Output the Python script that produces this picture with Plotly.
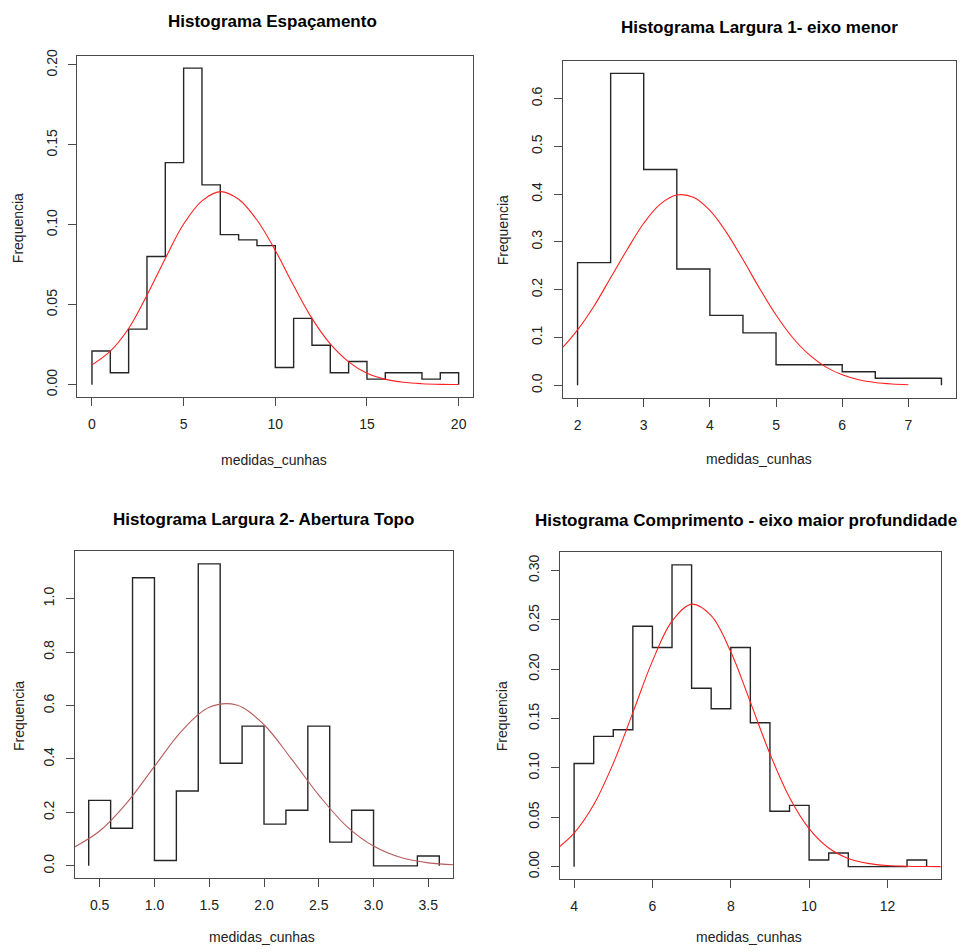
import plotly.graph_objects as go

# ---------------- data ----------------
# Panel 1: Espaçamento
esp_edges = [0, 1, 2, 3, 4, 5, 6, 7, 8, 9, 10, 11, 12, 13, 14, 15, 16, 17, 18, 19, 20]
esp_density = [0.0211, 0.0075, 0.0348, 0.0802, 0.1389, 0.1980, 0.1250, 0.0939, 0.0906, 0.0870,
               0.0108, 0.0415, 0.0247, 0.0075, 0.0145, 0.0035, 0.0075, 0.0075, 0.0035, 0.0075]
esp_curve_x = [0, 1, 2, 3, 4, 5, 6, 7, 8, 9, 10, 11, 12, 13, 14, 15, 16, 17, 18, 19, 20]
esp_curve_y = [0.0124, 0.0210, 0.0352, 0.0560, 0.0790, 0.1005, 0.1150, 0.1208, 0.1160, 0.1030,
               0.0840, 0.0620, 0.0415, 0.0255, 0.0143, 0.0072, 0.0035, 0.0015, 0.0006, 0.0002, 0.0001]

# Panel 2: Largura 1 - eixo menor
lg1_edges = [2.0, 2.5, 3.0, 3.5, 4.0, 4.5, 5.0, 5.5, 6.0, 6.5, 7.0, 7.5]
lg1_density = [0.2566, 0.6526, 0.4515, 0.2434, 0.1463, 0.1096, 0.0430, 0.0430, 0.0284, 0.0146, 0.0146]
lg1_curve_x = [1.5, 1.75, 2.0, 2.25, 2.5, 2.75, 3.0, 3.25, 3.5, 3.75, 4.0, 4.25, 4.5, 4.75,
               5.0, 5.25, 5.5, 5.75, 6.0, 6.25, 6.5, 6.75, 7.0]
lg1_curve_y = [0.0470, 0.0760, 0.1160, 0.1660, 0.2250, 0.2840, 0.3390, 0.3790, 0.3980, 0.3935,
               0.3660, 0.3200, 0.2630, 0.2030, 0.1470, 0.1000, 0.0640, 0.0385, 0.0218, 0.0116,
               0.0058, 0.0027, 0.0012]

# Panel 3: Largura 2 - Abertura Topo
lg2_edges = [0.4, 0.6, 0.8, 1.0, 1.2, 1.4, 1.6, 1.8, 2.0, 2.2, 2.4, 2.6, 2.8, 3.0, 3.2, 3.4, 3.6]
lg2_density = [0.245, 0.141, 1.078, 0.020, 0.280, 1.130, 0.384, 0.523, 0.156, 0.208,
               0.523, 0.089, 0.208, 0.0, 0.0, 0.037]
lg2_curve_x = [0.25, 0.5, 0.75, 1.0, 1.25, 1.5, 1.75, 2.0, 2.25, 2.5, 2.75, 3.0, 3.25, 3.5, 3.75]
lg2_curve_y = [0.0660, 0.1304, 0.2369, 0.3722, 0.5054, 0.5932, 0.6019, 0.5280, 0.4004,
               0.2650, 0.1500, 0.0740, 0.0310, 0.0113, 0.0040]

# Panel 4: Comprimento - eixo maior profundidade
cmp_edges = [4.0, 4.5, 5.0, 5.5, 6.0, 6.5, 7.0, 7.5, 8.0, 8.5, 9.0, 9.5, 10.0, 10.5, 11.0,
             11.5, 12.0, 12.5, 13.0]
cmp_density = [0.1045, 0.1320, 0.1387, 0.2435, 0.2220, 0.3057, 0.1807, 0.1600, 0.2220, 0.1458,
               0.0561, 0.0621, 0.0067, 0.0138, 0.0, 0.0, 0.0, 0.0067]
cmp_curve_x = [3.5, 4.0, 4.5, 5.0, 5.5, 6.0, 6.5, 7.0, 7.5, 8.0, 8.5, 9.0, 9.5, 10.0, 10.5,
               11.0, 11.5, 12.0, 12.5, 13.0, 13.5]
cmp_curve_y = [0.0162, 0.0340, 0.0627, 0.1046, 0.1560, 0.2082, 0.2487, 0.2659, 0.2543, 0.2176,
               0.1667, 0.1143, 0.0701, 0.0385, 0.0189, 0.0083, 0.0033, 0.0011, 0.0004, 0.0001, 0.0]

titles = ["Histograma Espaçamento", "Histograma Largura 1- eixo menor",
          "Histograma Largura 2- Abertura Topo", "Histograma Comprimento - eixo maior profundidade"]
x_label = "medidas_cunhas"
y_label = "Frequencia"

# ---------------- layout helpers ----------------
# page offset of the figure inside the browser page
OX, OY = 8.0, 11.5
W, H = 949, 944
FONT = "Liberation Sans, Arial, sans-serif"


def fx(px):
    return (px - OX) / W


def fy(py):
    return 1 - (py - OY) / H


panels = [
    dict(edges=esp_edges, dens=esp_density, cx=esp_curve_x, cy=esp_curve_y, ccol="#ff2020",
         box=(77.3, 473.3, 53.3, 397.3), xr=[-0.8, 20.8], yr=[-0.0079, 0.2059],
         xt=[0, 5, 10, 15, 20], xfmt="d", yt=[0.0, 0.05, 0.10, 0.15, 0.20], yfmt=".2f",
         title=(272, 19), xlab=(274, 460), ylab=(18.3, 226.7)),
    dict(edges=lg1_edges, dens=lg1_density, cx=lg1_curve_x, cy=lg1_curve_y, ccol="#ff2020",
         box=(563, 956, 58.7, 397.7), xr=[1.78, 7.72], yr=[-0.0261, 0.6787],
         xt=[2, 3, 4, 5, 6, 7], xfmt="d", yt=[0.0, 0.1, 0.2, 0.3, 0.4, 0.5, 0.6], yfmt=".1f",
         title=(759.7, 25), xlab=(758.7, 459.3), ylab=(503.3, 228.8)),
    dict(edges=lg2_edges, dens=lg2_density, cx=lg2_curve_x, cy=lg2_curve_y, ccol="#b65c5c",
         box=(74.7, 453.3, 552, 881), xr=[0.272, 3.728], yr=[-0.0453, 1.178],
         xt=[0.5, 1.0, 1.5, 2.0, 2.5, 3.0, 3.5], xfmt=".1f", yt=[0.0, 0.2, 0.4, 0.6, 0.8, 1.0], yfmt=".1f",
         title=(263.3, 520), xlab=(262, 940.5), ylab=(18.3, 717.7)),
    dict(edges=cmp_edges, dens=cmp_density, cx=cmp_curve_x, cy=cmp_curve_y, ccol="#ff2020",
         box=(560, 940.7, 553.3, 881.7), xr=[3.64, 13.36], yr=[-0.0122, 0.3184],
         xt=[4, 6, 8, 10, 12], xfmt="d", yt=[0.0, 0.05, 0.10, 0.15, 0.20, 0.25, 0.30], yfmt=".2f",
         title=(745.5, 521.5), xlab=(749.2, 940.5), ylab=(502.3, 718)),
]

fig = go.Figure()
annotations = []
layout = {}

for i, p in enumerate(panels):
    n = "" if i == 0 else str(i + 1)
    xa, ya = "x" + n, "y" + n
    # step histogram outline
    sx = [p["edges"][0]] + list(p["edges"])
    sy = [0] + list(p["dens"]) + [0]
    fig.add_trace(go.Scatter(x=sx, y=sy, mode="lines", line=dict(shape="hv", color="#262626", width=1.4),
                             xaxis=xa, yaxis=ya, showlegend=False, hoverinfo="skip"))
    fig.add_trace(go.Scatter(x=p["cx"], y=p["cy"], mode="lines",
                             line=dict(shape="spline", smoothing=1.0, color=p["ccol"], width=1.1),
                             xaxis=xa, yaxis=ya, showlegend=False, hoverinfo="skip"))
    l, r, t, b = p["box"]
    common = dict(showgrid=False, zeroline=False, showline=True, mirror=True, linecolor="#4a4a4a",
                  linewidth=1.3, ticks="outside", ticklen=8, tickcolor="#4a4a4a", tickwidth=1.2,
                  tickfont=dict(family=FONT, size=14, color="#222"))
    layout["xaxis" + n] = dict(domain=[fx(l), fx(r)], range=p["xr"], anchor=ya, tickvals=p["xt"],
                               tickformat=p["xfmt"], ticklabelstandoff=6, **common)
    layout["yaxis" + n] = dict(domain=[fy(b), fy(t)], range=p["yr"], anchor=xa, tickvals=p["yt"],
                               tickformat=p["yfmt"], tickangle=-90, ticklabelstandoff=6, **common)
    annotations.append(dict(text="<b>" + titles[i] + "</b>", x=fx(p["title"][0]), y=fy(p["title"][1]),
                            xref="paper", yref="paper", showarrow=False, xanchor="center", yanchor="middle",
                            font=dict(family=FONT, size=17, color="#000")))
    annotations.append(dict(text=x_label, x=fx(p["xlab"][0]), y=fy(p["xlab"][1]),
                            xref="paper", yref="paper", showarrow=False, xanchor="center", yanchor="middle",
                            font=dict(family=FONT, size=14, color="#222")))
    annotations.append(dict(text=y_label, x=fx(p["ylab"][0]), y=fy(p["ylab"][1]), textangle=-90,
                            xref="paper", yref="paper", showarrow=False, xanchor="center", yanchor="middle",
                            font=dict(family=FONT, size=14, color="#222")))

fig.update_layout(width=W, height=H, margin=dict(l=0, r=0, t=0, b=0), paper_bgcolor="white",
                  plot_bgcolor="white", annotations=annotations, **layout)

fig.write_html("out.html")
